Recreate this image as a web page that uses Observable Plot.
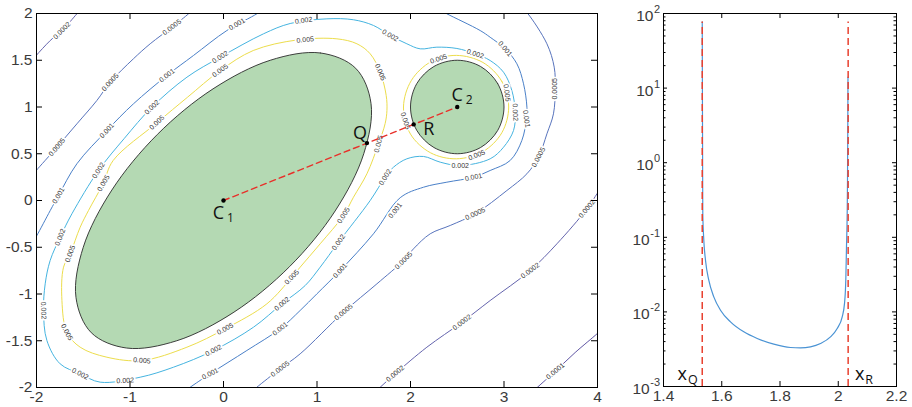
<!DOCTYPE html>
<html><head><meta charset="utf-8">
<script src="https://cdn.jsdelivr.net/npm/d3@7"></script>
<script src="https://cdn.jsdelivr.net/npm/@observablehq/plot@0.6"></script>
<style>
body{margin:0;background:#fff;}
#wrap{position:relative;width:912px;height:407px;background:#fff;overflow:hidden;}
#left{position:absolute;left:0;top:0;}
#right{position:absolute;left:600px;top:0;}
</style></head><body>
<div id="wrap"><div id="left"></div><div id="right"></div></div>
<script>
// ---------- Left panel data ----------
const xTicksL = [-2, -1, 0, 1, 2, 3, 4];
const xTickLabelsL = ["-2", "-1", "0", "1", "2", "3", "4"];
const yTicksL = [-2, -1.5, -1, -0.5, 0, 0.5, 1, 1.5, 2];
const yTickLabelsL = ["-2", "-1.5", "-1", "-0.5", "0", "0.5", "1", "1.5", "2"];

// bodies (outline points)
const ellipseBody = [[1.414,1.414],[1.036,1.578],[0.5,1.5],[-0.112,1.194],[-0.707,0.707],[-1.194,0.112],[-1.5,-0.5],[-1.578,-1.036],[-1.414,-1.414],[-1.036,-1.578],[-0.5,-1.5],[0.112,-1.194],[0.707,-0.707],[1.194,-0.112],[1.5,0.5],[1.578,1.036]];
const circleBody = [[3.0,1.0],[2.933,1.25],[2.75,1.433],[2.5,1.5],[2.25,1.433],[2.067,1.25],[2.0,1.0],[2.067,0.75],[2.25,0.567],[2.5,0.5],[2.75,0.567],[2.933,0.75]];

// contour lines, level 0.005
const lvl005Ellipse = [[-1.444,-0.107],[-1.287,0.182],[-1.180,0.428],[-0.709,0.834],[-0.388,1.102],[-0.035,1.390],[0.318,1.604],[0.789,1.717],[1.213,1.729],[1.427,1.676],[1.569,1.569],[1.676,1.372],[1.740,1.123],[1.748,0.963],[1.729,0.824],[1.658,0.606],[1.534,0.286],[1.390,0.035],[1.283,-0.160],[1.034,-0.463],[0.820,-0.713],[0.731,-0.820],[0.464,-1.105],[0.018,-1.372],[-0.391,-1.569],[-0.873,-1.711],[-1.247,-1.676],[-1.533,-1.569],[-1.675,-1.409],[-1.728,-1.070],[-1.711,-0.713],[-1.640,-0.570],[-1.533,-0.286]];
const lvl005Circle = [[3.05,1.0],[2.976,1.275],[2.775,1.476],[2.49,1.552],[2.22,1.485],[2.01,1.285],[1.925,1.0],[2.0,0.71],[2.215,0.51],[2.49,0.446],[2.775,0.523],[2.977,0.725]];
// level 0.002
const lvl002Loop = [[-1.621,-0.142],[-1.337,0.321],[-1.06,0.665],[-0.766,0.998],[-0.391,1.319],[-0.035,1.533],[0.428,1.783],[0.713,1.893],[1.106,1.943],[1.390,1.933],[1.604,1.872],[1.783,1.765],[1.961,1.676],[2.104,1.622],[2.282,1.640],[2.496,1.626],[2.692,1.569],[2.852,1.497],[2.995,1.372],[3.084,1.176],[3.120,0.944],[3.102,0.749],[2.995,0.570],[2.852,0.446],[2.532,0.374],[2.318,0.410],[2.139,0.471],[1.961,0.446],[1.818,0.356],[1.729,0.249],[1.569,0.0],[1.230,-0.446],[1.034,-0.713],[0.874,-0.909],[0.625,-1.105],[0.321,-1.355],[-0.107,-1.604],[-0.535,-1.783],[-0.891,-1.890],[-1.319,-1.943],[-1.533,-1.853],[-1.747,-1.747],[-1.889,-1.497],[-1.925,-1.176],[-1.907,-0.891],[-1.854,-0.642],[-1.747,-0.393]];
// level 0.001
const lvl001West = [[-2.03,-0.43],[-1.996,-0.374],[-1.853,-0.107],[-1.765,0.053],[-1.568,0.393],[-1.247,0.749],[-0.963,1.034],[-0.605,1.337],[-0.321,1.551],[0.036,1.818],[0.357,1.997],[0.40,2.03]];
const lvl001East = [[2.33,2.03],[2.389,1.997],[2.745,1.818],[2.852,1.746],[3.013,1.622],[3.138,1.462],[3.209,1.248],[3.245,0.998],[3.240,0.874],[3.191,0.642],[3.066,0.428],[2.852,0.321],[2.674,0.249],[2.389,0.196],[2.139,0.142],[1.890,0.030],[1.604,-0.356],[1.248,-0.749],[0.999,-0.998],[0.820,-1.176],[0.606,-1.372],[0.250,-1.604],[-0.142,-1.853],[-0.356,-1.997],[-0.40,-2.03]];
// level 0.0005
const lvl0005West = [[-2.03,0.29],[-2.003,0.321],[-1.782,0.570],[-1.568,0.820],[-1.354,1.070],[-1.212,1.265],[-0.963,1.516],[-0.784,1.676],[-0.552,1.853],[-0.374,1.997],[-0.34,2.03]];
const lvl0005East = [[3.22,2.03],[3.256,1.997],[3.459,1.676],[3.537,1.426],[3.548,1.195],[3.529,0.927],[3.459,0.713],[3.369,0.463],[3.245,0.286],[3.031,0.107],[2.692,-0.142],[2.425,-0.267],[2.211,-0.356],[2.032,-0.517],[1.925,-0.642],[1.641,-0.891],[1.283,-1.195],[0.820,-1.640],[0.606,-1.800],[0.357,-1.997],[0.32,-2.03]];
// level 0.0002
const lvl0002West = [[-2.03,1.52],[-2.003,1.551],[-1.853,1.711],[-1.728,1.818],[-1.568,1.997],[-1.54,2.03]];
const lvl0002East = [[1.64,-2.03],[1.676,-1.997],[1.836,-1.853],[2.175,-1.569],[2.550,-1.302],[2.852,-1.070],[3.280,-0.749],[3.566,-0.463],[3.887,-0.089],[3.997,0.075],[4.03,0.12]];
// level 0.0001
const lvl0001East = [[3.32,-2.03],[3.358,-1.997],[3.548,-1.826],[3.761,-1.626],[3.994,-1.426],[4.03,-1.39]];

// contour labels: x, y, text, angle
const contourLabels = [
 [-1.728,1.818,"0.0002",-45],[-0.552,1.853,"0.0005",-38],[-1.212,1.265,"0.0005",-48],[-1.782,0.570,"0.0005",-50],
 [0.143,1.885,"0.001",-30],[-0.605,1.337,"0.001",-38],[-1.247,0.749,"0.001",-47],[-1.765,0.053,"0.001",-60],
 [0.856,1.925,"0.002",-8],[-0.035,1.533,"0.002",-33],[-0.766,0.998,"0.002",-44],[-1.337,0.321,"0.002",-58],
 [0.874,1.719,"0.005",-6],[-0.035,1.390,"0.005",-35],[-0.712,0.834,"0.005",-43],[-1.283,0.185,"0.005",-60],
 [1.783,1.765,"0.002",30],[1.676,1.372,"0.005",68],[1.658,0.606,"0.005",-75],[1.729,0.249,"0.002",-58],
 [2.30,1.515,"0.005",-18],[2.692,1.569,"0.002",18],[3.013,1.622,"0.001",50],[3.031,1.152,"0.005",82],
 [3.120,0.944,"0.002",88],[3.240,0.874,"0.001",82],[3.548,1.195,"0.0005",-90],[2.708,0.485,"0.005",-22],
 [2.532,0.374,"0.002",0],[2.674,0.249,"0.001",-12],[1.944,0.851,"0.005",72],[3.369,0.463,"0.0005",-62],
 [1.283,-0.160,"0.005",-58],[1.230,-0.446,"0.002",-55],[1.836,-0.107,"0.001",-52],[1.248,-0.749,"0.001",-48],
 [2.692,-0.142,"0.0005",-25],[1.925,-0.642,"0.0005",-45],[1.283,-1.195,"0.0005",-40],[3.887,-0.089,"0.0002",-50],
 [3.280,-0.749,"0.0002",-37],[2.550,-1.302,"0.0002",-37],[1.836,-1.853,"0.0002",-40],[3.548,-1.826,"0.0001",-40],
 [0.731,-0.820,"0.005",-45],[0.625,-1.105,"0.002",-40],[0.606,-1.372,"0.001",-38],[0.606,-1.800,"0.0005",-38],
 [0.018,-1.372,"0.005",-28],[-0.107,-1.604,"0.002",-27],[-0.142,-1.853,"0.001",-28],[-0.873,-1.711,"0.005",5],
 [-1.051,-1.925,"0.002",-3],[-1.533,-1.853,"0.002",28],[-1.675,-1.409,"0.005",62],[-1.925,-1.176,"0.002",88],
 [-1.640,-0.570,"0.005",-70],[-1.747,-0.393,"0.002",-68]
];

const centers = [[0, 0], [2.5, 1]];
const pointQ = [1.534, 0.614];
const pointR = [2.034, 0.814];

// ---------- Right panel data ----------
const xTicksR = [1.4, 1.6, 1.8, 2.0, 2.2];
const xTickLabelsR = ["1.4", "1.6", "1.8", "2", "2.2"];
const yTicksR = [1e-3, 1e-2, 1e-1, 1, 10, 100];
const yTickBaseR = ["10", "10", "10", "10", "10", "10"];
const yTickExpR = ["-3", "-2", "-1", "0", "1", "2"];
const curveX = [1.5330,1.5336,1.5342,1.5349,1.5384,1.5442,1.5555,1.5727,1.5957,1.6300,1.6757,1.7217,1.7787,1.8361,1.8704,1.9047,1.9391,1.9734,1.9964,2.0136,2.0215,2.0259,2.0283,2.0307,2.0318,2.0328,2.0334];
const curveY = [77,8,1.2,0.208,0.0914,0.0493,0.0266,0.0159,0.01054,0.00735,0.0054,0.0044,0.00369,0.00333,0.00329,0.0034,0.00377,0.00462,0.00599,0.00857,0.013,0.0266,0.0743,0.208,0.583,3,14];
const xQ = 1.533, xR = 2.034, dashTop = 77;

// ---------- styles ----------
const levelColors = {"0.005": "#ecdd4c", "0.002": "#45b4e0", "0.001": "#4a80c8", "0.0005": "#5874bd", "0.0002": "#6464ad", "0.0001": "#5f55a3"};
const tickFont = "'Liberation Sans', Arial, Helvetica, sans-serif";
const letterFont = "'Open Sans', 'Noto Sans', sans-serif";
const tickColor = "#3a3a3a";
const tickFontSize = 15.5;

const H = 407, mT = 13;
// left (svg wider than its frame so the last tick label is not cut)
const W1 = 612, mL1 = 36, mR1 = 15, mB1 = 20;
const fw1 = W1 - mL1 - mR1, fh1 = H - mT - mB1;
const tk = 6;

const contourLine = (pts, level, closed) => Plot.line(pts, {
  x: d => d[0], y: d => d[1], stroke: levelColors[level], strokeWidth: 1,
  curve: closed ? "catmull-rom-closed" : "catmull-rom", clip: true
});

const left = Plot.plot({
  width: W1, height: H, marginLeft: mL1, marginRight: mR1, marginTop: mT, marginBottom: mB1,
  x: {domain: [-2, 4], axis: null}, y: {domain: [-2, 2], axis: null},
  style: {fontFamily: tickFont, color: "#333", background: "transparent", overflow: "visible"},
  marks: [
    contourLine(lvl0001East, "0.0001", false),
    contourLine(lvl0002West, "0.0002", false),
    contourLine(lvl0002East, "0.0002", false),
    contourLine(lvl0005West, "0.0005", false),
    contourLine(lvl0005East, "0.0005", false),
    contourLine(lvl001West, "0.001", false),
    contourLine(lvl001East, "0.001", false),
    contourLine(lvl002Loop, "0.002", true),
    contourLine(lvl005Ellipse, "0.005", true),
    contourLine(lvl005Circle, "0.005", true),
    Plot.text(contourLabels, {x: d => d[0], y: d => d[1], text: d => d[2], rotate: d => d[3],
      fontSize: 7, fill: "#333", stroke: "white", strokeWidth: 3.5, fontFamily: tickFont}),
    Plot.line(ellipseBody, {x: d => d[0], y: d => d[1], curve: "catmull-rom-closed", fill: "#b4d9b3", stroke: "#2a2a2a", strokeWidth: 0.9}),
    Plot.line(circleBody, {x: d => d[0], y: d => d[1], curve: "catmull-rom-closed", fill: "#b4d9b3", stroke: "#2a2a2a", strokeWidth: 0.9}),
    Plot.line(centers, {x: d => d[0], y: d => d[1], stroke: "#e8302a", strokeWidth: 1.4, strokeDasharray: "6,4"}),
    Plot.dot([centers[0], pointQ, pointR, centers[1]], {x: d => d[0], y: d => d[1], r: 2.2, fill: "black"}),
    Plot.text([centers[0]], {x: d => d[0], y: d => d[1], text: d => "C", dx: -5, dy: 13, fontSize: 18, fontFamily: letterFont, fill: "#111"}),
    Plot.text([centers[0]], {x: d => d[0], y: d => d[1], text: d => "1", dx: 7, dy: 18, fontSize: 12, fontFamily: letterFont, fill: "#111"}),
    Plot.text([centers[1]], {x: d => d[0], y: d => d[1], text: d => "C", dx: 0, dy: -12, fontSize: 18, fontFamily: letterFont, fill: "#111"}),
    Plot.text([centers[1]], {x: d => d[0], y: d => d[1], text: d => "2", dx: 12, dy: -7, fontSize: 12, fontFamily: letterFont, fill: "#111"}),
    Plot.text([pointQ], {x: d => d[0], y: d => d[1], text: d => "Q", dx: -7, dy: -10, fontSize: 18, fontFamily: letterFont, fill: "#111"}),
    Plot.text([pointR], {x: d => d[0], y: d => d[1], text: d => "R", dx: 15, dy: 5, fontSize: 18, fontFamily: letterFont, fill: "#111"}),
    Plot.frame({stroke: "black", strokeWidth: 1}),
    Plot.ruleX(xTicksL, {x: d => d, insetTop: fh1 - tk, stroke: "black"}),
    Plot.ruleX(xTicksL, {x: d => d, insetBottom: fh1 - tk, stroke: "black"}),
    Plot.ruleY(yTicksL, {y: d => d, insetRight: fw1 - tk, stroke: "black"}),
    Plot.ruleY(yTicksL, {y: d => d, insetLeft: fw1 - tk, stroke: "black"}),
    // tick labels
    Plot.text(xTicksL, {x: d => d, frameAnchor: "bottom", dy: 14, text: (d, i) => xTickLabelsL[i],
      fontSize: tickFontSize, fill: tickColor, fontFamily: tickFont}),
    Plot.text(yTicksL, {y: d => d, frameAnchor: "left", dx: -4, textAnchor: "end", text: (d, i) => yTickLabelsL[i],
      fontSize: tickFontSize, fill: tickColor, fontFamily: tickFont})
  ]
});
document.getElementById("left").appendChild(left);

// right
const W2 = 312, mL2 = 63, mR2 = 16, mB2 = 21;
const fw2 = W2 - mL2 - mR2, fh2 = H - mT - mB2;
const yMinorR = [];
for (const dec of yTicksR.slice(0, -1)) for (let m = 2; m <= 9; m++) yMinorR.push(m * dec);
const curveData = curveX.map((x, i) => ({x, y: curveY[i]}));
const expFont = 11;
const expWidth = s => [...s].reduce((w, c) => w + (c === "-" ? 0.333 : 0.556), 0) * expFont;

const right = Plot.plot({
  width: W2, height: H, marginLeft: mL2, marginRight: mR2, marginTop: mT, marginBottom: mB2,
  x: {domain: [1.4, 2.2], axis: null},
  y: {type: "log", domain: [1e-3, 1e2], axis: null},
  style: {fontFamily: tickFont, color: "#333", background: "transparent"},
  marks: [
    Plot.line(curveData, {x: "x", y: "y", stroke: "#4a93d4", strokeWidth: 1.2, curve: "monotone-x", clip: true}),
    Plot.ruleX([xQ, xR], {x: d => d, y1: 1e-3, y2: dashTop, stroke: "#e8402f", strokeWidth: 1.5, strokeDasharray: "7,4"}),
    Plot.text([xQ], {x: d => d, y: 1e-3, text: d => "x", dx: -20, dy: -12, fontSize: 18, fontFamily: letterFont, fill: "#111"}),
    Plot.text([xQ], {x: d => d, y: 1e-3, text: d => "Q", dx: -9.5, dy: -6.5, fontSize: 12.5, fontFamily: letterFont, fill: "#111"}),
    Plot.text([xR], {x: d => d, y: 1e-3, text: d => "x", dx: 11.5, dy: -12, fontSize: 18, fontFamily: letterFont, fill: "#111"}),
    Plot.text([xR], {x: d => d, y: 1e-3, text: d => "R", dx: 21, dy: -6.5, fontSize: 12.5, fontFamily: letterFont, fill: "#111"}),
    Plot.frame({stroke: "black", strokeWidth: 1}),
    Plot.ruleX(xTicksR, {x: d => d, insetTop: fh2 - 5, stroke: "black"}),
    Plot.ruleX(xTicksR, {x: d => d, insetBottom: fh2 - 5, stroke: "black"}),
    Plot.ruleY(yTicksR, {y: d => d, insetRight: fw2 - 4, stroke: "black"}),
    Plot.ruleY(yTicksR, {y: d => d, insetLeft: fw2 - 4, stroke: "black"}),
    Plot.ruleY(yMinorR, {y: d => d, insetRight: fw2 - 2.5, stroke: "black"}),
    Plot.ruleY(yMinorR, {y: d => d, insetLeft: fw2 - 2.5, stroke: "black"}),
    // tick labels
    Plot.text(xTicksR, {x: d => d, frameAnchor: "bottom", dy: 14, text: (d, i) => xTickLabelsR[i],
      fontSize: tickFontSize, fill: tickColor, fontFamily: tickFont}),
    ...yTicksR.map((d, i) => Plot.text([d], {y: v => v, frameAnchor: "left", textAnchor: "end",
      dx: -3.5 - expWidth(yTickExpR[i]) - 0.5, dy: 2.5, text: () => yTickBaseR[i],
      fontSize: tickFontSize, fill: tickColor, fontFamily: tickFont})),
    Plot.text(yTicksR, {y: d => d, frameAnchor: "left", textAnchor: "end", dx: -3.5, dy: -4,
      text: (d, i) => yTickExpR[i], fontSize: expFont, fill: tickColor, fontFamily: tickFont})
  ]
});
document.getElementById("right").appendChild(right);
</script></body></html>
